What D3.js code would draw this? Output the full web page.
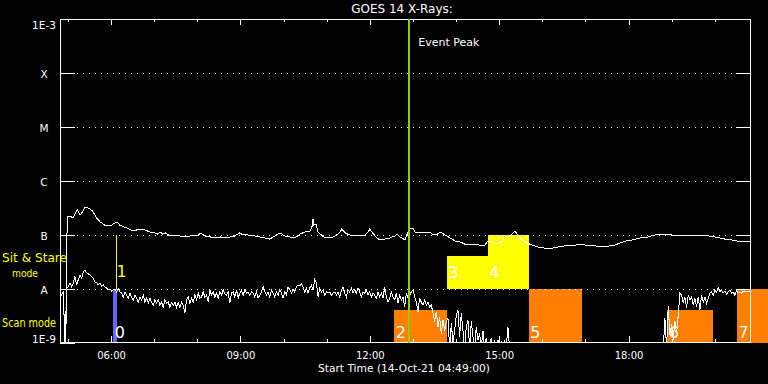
<!DOCTYPE html>
<html><head><meta charset="utf-8">
<script src="https://cdn.jsdelivr.net/npm/d3@7"></script>
<style>
html,body{margin:0;padding:0;background:#000;}
svg{display:block;}
text{font-family:"DejaVu Sans",sans-serif;fill:#fff;}
</style></head><body>
<svg id="chart" width="768" height="384"></svg>
<script>
// ---------------- data ----------------
const chartTitle = "GOES 14 X-Rays:";
const startTimeStr = "2021-10-14 04:49:00";
const endTimeStr   = "2021-10-14 20:49:00";
const xAxisTitle = "Start Time (14-Oct-21 04:49:00)";
const xMajorLabels = ["06:00","09:00","12:00","15:00","18:00"];
const yTickValues = [1e-3,1e-4,1e-5,1e-6,1e-7,1e-8,1e-9];
const yTickLabels = ["1E-3","X","M","C","B","A","1E-9"];
const gridLevels  = [1e-4,1e-5,1e-6,1e-7,1e-8];

// long channel (upper curve): minutes after start, flux in nW/m^2
const longMinutes = [8,10,14,18,21,24,28,31,35,39,42,45,49,51,56,60,64,70,74,77,
81,83,89,93,99,104,109,114,118,125,132,136,139,143,147,153,160,167,174,181,
188,192,195,202,209,216,223,230,237,243,250,255,260,264,271,278,285,292,299,306,
313,320,327,334,341,348,351,352,353,356,359,365,370,376,383,390,392,397,403,410,
417,424,429,431,435,441,445,452,459,466,469,473,480,483,487,491,495,501,508,515,
519,525,529,536,543,550,557,563,570,577,584,591,595,601,608,615,619,626,630,633,
637,643,650,657,665,675,685,693,703,710,717,726,735,744,755,765,772,779,787,796,
807,818,828,835,843,851,863,877,890,902,911,918,925,935,943,953,960];
const longFlux = [0.8,215,225,206,245,290,234,267,330,316,303,278,234,206,174,160,147,147,160,167,
167,153,141,135,124,119,129,129,124,114,109,104,114,104,109,96,100,96,92,96,
96,96,109,96,92,88,92,88,92,96,109,100,104,96,96,92,88,84,96,109,
96,92,88,104,114,119,147,198,153,160,114,96,88,88,96,114,129,109,100,96,
96,100,114,129,109,88,81,84,88,96,104,92,81,104,129,135,109,109,109,114,
100,104,114,100,88,77,74,68,68,68,65,65,77,74,68,77,92,96,109,119,
100,81,71,65,60,57,57,60,63,65,65,68,63,63,60,63,65,71,77,81,
88,92,100,104,104,100,96,96,100,96,92,88,84,81,77,77,77];

// short channel (lower curve): regular cadence, flux in nW/m^2
const shortCadenceSec = 139;
const shortSeg1Start = "2021-10-14 04:49:00";
const shortSeg1Flux = [7.1,7.7,9.2,0.8,10.4,10.9,13,10.9,13,17,
11.9,15,18,16,21,22,20,19,18,17,
16,13.5,13,11.9,13,11.4,11.9,10.9,10.4,9.6,
10,9.2,9.6,10,8.8,10,8.8,8.4,7.1,8.8,
7.7,6.8,8.4,7.1,6.3,7.7,6.8,5.7,7.1,6.3,
7.7,5.7,6.8,5.5,6.8,5.7,5.0,6.3,5.5,6.3,
5.0,5.7,4.6,6.3,5.5,5.7,4.6,5.5,5.0,5.7,
4.6,5.5,4.6,5.7,5.0,3.6,6.3,7.1,5.5,6.8,
5.7,7.7,6.3,8.4,6.8,7.1,8.8,7.1,7.7,5.7,
9.6,7.7,8.8,7.1,8.4,6.8,8.8,7.7,9.6,8.1,
7.7,8.8,5.5,8.4,8.8,7.1,9.6,6.8,8.4,9.6,
7.7,9.6,8.4,8.8,7.7,8.8,8.4,7.1,8.8,6.8,
7.7,8.8,10.9,8.8,7.7,8.8,7.1,9.6,8.4,7.1,
8.8,7.7,9.6,8.4,6.8,8.8,7.7,10.9,9.6,8.4,
10,8.8,10.9,11.9,11.4,12.4,10.9,8.8,10.4,8.4,
10.4,11.9,9.6,15,13,7.1,10.4,8.8,9.6,7.7,
8.8,8.4,8.8,7.7,8.4,8.8,7.7,8.8,7.1,9.6,
10.9,8.4,7.1,9.6,8.8,10.4,8.4,9.6,8.4,10.4,
8.8,7.1,8.8,8.4,9.6,7.7,8.8,7.1,8.4,7.7,
6.8,8.8,7.1,8.4,6.8,10.9,7.1,5.7,6.8,8.8,
7.1,6.3,8.4,5.5,7.7,6.3,7.1,4.6,8.4,6.8,
7.7,8.8,9.6,7.1,5.7,3.8,6.8,5.7,5.0,6.3,
5.0,5.7,4.6,5.0,3.6,2.5,3.8,2.0,3.0,1.5,
2.7,1.7,2.5,2.9,0.8,2.3,1.04,1.7,3.3,4.1,
1.3,3.6,1.7,0.8,2.0,2.7,0.8,2.5,1.3,0.8,
2.0,1.14,1.5,0.8,1.7,0.8,1.24,0.8,0.8,1.24,
0.8,1.14,0.8,1.14,0.8,1.04,0.8,1.04,0.8,2.0,0.8];
const shortSeg2Start = "2021-10-14 18:46:00";
const shortSeg2Flux = [0.8,0.8,2.9,0.8,4.8,1.4,2.2,1.14,2.5,1.5,
3.3,8.4,7.7,5.5,7.1,4.5,7.7,6.3,7.1,5.0,
6.8,4.6,7.1,4.1,7.7,5.7,7.1,5.5,6.8,8.4,
8.8,7.7,9.6,8.8,10.4,8.8,9.6,8.4,9.2,8.1,
8.8,9.6,8.4,8.8,7.7,9.2,8.4,8.8,8.4,9.2,
8.8,8.8,9.2,8.8];

// observation blocks (minutes after start)
const blockLabels   = ["0","2","3","4","5","6","7"];
const blockStartMin = [74,465,538,595,652,845,942];
const blockEndMin   = [79,538,595,652,726,908,985];
const blockLowFlux  = [1e-9,1e-9,1e-8,1e-8,1e-9,1e-9,1e-9];
const blockHighFlux = [1e-8,4e-9,4e-8,1e-7,1e-8,4e-9,1e-8];
const blockModes    = ["ref","scan","stare","stare","scan","scan","scan"];

const pointLabel = "1";
const pointMin = 78;
const pointLowFlux = 1e-8, pointHighFlux = 1e-7;

const eventPeakMin = 486;
const eventPeakLabel = "Event Peak";

const modeColors = {ref:"#6464ff", scan:"#ff8000", stare:"#ffff00"};

// ---------------- drawing ----------------
const svg = d3.select("#chart");
svg.append("rect").attr("width",768).attr("height",384).attr("fill","#000");

const parse = d3.timeParse("%Y-%m-%d %H:%M:%S");
const t0 = parse(startTimeStr), t1 = parse(endTimeStr);
const fromMin = m => new Date(t0.getTime() + m*60000);

const L=60, R=750, T=19, B=343;
const x = d3.scaleTime().domain([t0,t1]).range([L,R]);
const y = d3.scaleLog().domain([1e-9,1e-3]).range([B,T]);

// blocks
const blocks = blockLabels.map((lab,i)=>({lab, s:fromMin(blockStartMin[i]), e:fromMin(blockEndMin[i]),
  lo:blockLowFlux[i], hi:blockHighFlux[i], mode:blockModes[i]}));
svg.append("g").selectAll("rect").data(blocks).join("rect")
  .attr("x",d=>x(d.s)).attr("width",d=>x(d.e)-x(d.s))
  .attr("y",d=>y(d.hi)).attr("height",d=>y(d.lo)-y(d.hi))
  .attr("fill",d=>modeColors[d.mode]).attr("shape-rendering","crispEdges");

// frame
svg.append("rect").attr("x",L+0.5).attr("y",T+0.5).attr("width",R-L).attr("height",B-T-1)
  .attr("fill","none").attr("stroke","#fff").attr("shape-rendering","crispEdges");

// time ticks
const hourTicks = d3.timeHour.range(t0, t1);
const majorTicks = xMajorLabels.map(s=>parse("2021-10-14 "+s+":00"));
const fmt = d3.timeFormat("%H:%M");
function styleAxis(g){ g.select(".domain").remove(); g.selectAll("line").attr("stroke","#fff").attr("shape-rendering","crispEdges"); }
svg.append("g").attr("transform",`translate(0,${B-1})`)
  .call(d3.axisBottom(x).tickValues(hourTicks).tickSize(-3).tickFormat("")).call(styleAxis);
svg.append("g").attr("transform",`translate(0,${B-1})`)
  .call(d3.axisBottom(x).tickValues(majorTicks).tickSize(-6).tickPadding(10).tickFormat(fmt))
  .call(styleAxis)
  .call(g=>g.selectAll("text").attr("fill","#fff").attr("font-size","10px").attr("font-family","DejaVu Sans"));
svg.append("g").attr("transform",`translate(0,${T})`)
  .call(d3.axisTop(x).tickValues(hourTicks).tickSize(-3).tickFormat("")).call(styleAxis);
svg.append("g").attr("transform",`translate(0,${T})`)
  .call(d3.axisTop(x).tickValues(majorTicks).tickSize(-6).tickFormat("")).call(styleAxis);

// y axis
svg.append("g").attr("transform",`translate(${L},0)`)
  .call(d3.axisLeft(y).tickValues(yTickValues).tickSize(-15).tickFormat((d,i)=>yTickLabels[i]))
  .call(styleAxis)
  .call(g=>g.selectAll("text").attr("fill","#fff").attr("font-size","10.5px").attr("font-family","DejaVu Sans")
     .attr("text-anchor","middle").attr("x",-16)
     .attr("dy",(d,i)=> i===0 ? "0.95em" : (i===yTickValues.length-1 ? "-0.02em" : "0.45em")));
svg.append("g").attr("transform",`translate(${R},0)`)
  .call(d3.axisRight(y).tickValues(gridLevels).tickSize(-14).tickFormat("")).call(styleAxis);

// dotted grid
svg.append("g").selectAll("line").data(gridLevels).join("line")
  .attr("x1",77).attr("x2",735).attr("y1",d=>y(d)+0.5).attr("y2",d=>y(d)+0.5)
  .attr("stroke","#fff").attr("stroke-dasharray","1 5").attr("shape-rendering","crispEdges");

// data
svg.append("clipPath").attr("id","plotclip").append("rect")
  .attr("x",L).attr("y",T).attr("width",R-L+1).attr("height",B-T);
const line = d3.line().x(d=>x(d.t)).y(d=>y(d.f));
const longData = longMinutes.map((m,i)=>({t:fromMin(m), f:longFlux[i]*1e-9}));
const segData = (startStr, arr)=>{ const s=parse(startStr).getTime(); return arr.map((v,i)=>({t:new Date(s+i*shortCadenceSec*1000), f:v*1e-9})); };
const series = [longData, segData(shortSeg1Start, shortSeg1Flux), segData(shortSeg2Start, shortSeg2Flux)];
svg.append("g").attr("clip-path","url(#plotclip)").selectAll("path").data(series).join("path")
  .attr("d",line).attr("fill","none").attr("stroke","#fff").attr("stroke-width",1)
  .attr("shape-rendering","crispEdges");

// block labels
svg.append("g").selectAll("text").data(blocks).join("text")
  .attr("x",d=>x(d.s)+1.5)
  .attr("y",d=> d.mode==="stare" ? y(1e-8)-11 : y(d.lo)-5)
  .attr("font-size","16px").attr("fill","#fff").text(d=>d.lab);

// pointing line "1"
const px = x(fromMin(pointMin));
svg.append("line").attr("x1",px+0.5).attr("x2",px+0.5).attr("y1",y(pointHighFlux)).attr("y2",y(pointLowFlux))
  .attr("stroke","#ffff00").attr("shape-rendering","crispEdges");
svg.append("text").attr("x",px+0.5).attr("y",y(pointLowFlux)-12).attr("font-size","16px")
  .style("fill","#ffff00").text(pointLabel);

// event peak
const ex = x(fromMin(eventPeakMin));
svg.append("line").attr("x1",ex).attr("x2",ex).attr("y1",T).attr("y2",B)
  .attr("stroke","#9ccc00").attr("stroke-width",2).attr("shape-rendering","crispEdges");
svg.append("text").attr("x",ex+9).attr("y",46).attr("font-size","11px").text(eventPeakLabel);

// titles
svg.append("text").attr("x",402).attr("y",13).attr("text-anchor","middle").attr("font-size","12px").text(chartTitle);
svg.append("text").attr("x",318).attr("y",372).attr("font-size","11px")
  .attr("textLength",172).attr("lengthAdjust","spacingAndGlyphs").text(xAxisTitle);

// mode legend on the left
svg.append("text").attr("x",2).attr("y",262).attr("font-size","12px").style("fill","#ffff00")
  .attr("textLength",65).attr("lengthAdjust","spacingAndGlyphs").text("Sit & Stare");
svg.append("text").attr("x",12).attr("y",276.5).attr("font-size","11px").style("fill","#ffff00")
  .attr("textLength",26).attr("lengthAdjust","spacingAndGlyphs").text("mode");
svg.append("text").attr("x",2).attr("y",327).attr("font-size","12px").style("fill","#ffff00")
  .attr("textLength",54).attr("lengthAdjust","spacingAndGlyphs").text("Scan mode");
</script>
</body></html>
